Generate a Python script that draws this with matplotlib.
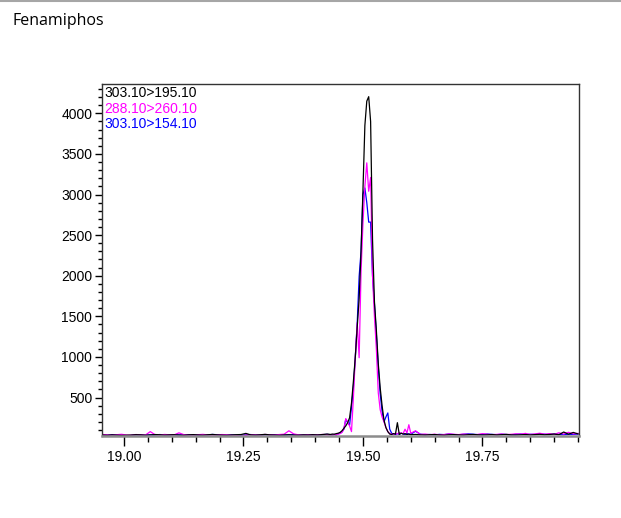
#chromatogram of Fenamiphos, three transitions
import matplotlib
matplotlib.use('Agg')
import matplotlib.pyplot as plt
from matplotlib.ticker import MultipleLocator, FormatStrFormatter
from matplotlib.lines import Line2D

title = 'Fenamiphos'
trace_names = ['303.10>195.10', '288.10>260.10', '303.10>154.10']
trace_colors = ['black', '#ff00ff', '#0000ff']

# retention time (min), baseline before the peak
t_left = [18.955, 18.965, 18.975, 18.985, 18.995, 19.005, 19.015, 19.025, 19.035, 19.045,
          19.055, 19.065, 19.075, 19.085, 19.095, 19.105, 19.115, 19.125, 19.135, 19.145,
          19.155, 19.165, 19.175, 19.185, 19.195, 19.205, 19.215, 19.225, 19.235, 19.245,
          19.255, 19.265, 19.275, 19.285, 19.295, 19.305, 19.315, 19.325, 19.335, 19.345,
          19.355, 19.365, 19.375, 19.385, 19.395, 19.405, 19.415, 19.425]
# retention time (min) around the peak
t_peak = [19.432, 19.436, 19.440, 19.444, 19.448, 19.452, 19.456, 19.460, 19.464, 19.468,
          19.472, 19.476, 19.480, 19.484, 19.488, 19.492, 19.496, 19.500, 19.504, 19.508,
          19.512, 19.516, 19.520, 19.524, 19.528, 19.532, 19.536, 19.540, 19.544, 19.548,
          19.552, 19.556, 19.560, 19.564, 19.568, 19.572, 19.576, 19.580, 19.584, 19.588,
          19.592, 19.596, 19.600]
# retention time (min) after the peak
t_right = [19.61, 19.62, 19.63, 19.64, 19.65, 19.66, 19.67, 19.68, 19.69, 19.70,
           19.71, 19.72, 19.73, 19.74, 19.75, 19.76, 19.77, 19.78, 19.79, 19.80,
           19.81, 19.82, 19.83, 19.84, 19.85, 19.86, 19.87, 19.88, 19.89, 19.90,
           19.91, 19.92, 19.93, 19.94, 19.95]

# 303.10>195.10 (black)
black_left = [38, 35, 40, 37, 34, 36, 38, 42, 40, 36, 39, 44, 41, 37, 40, 42, 38, 35, 40, 43,
              39, 36, 41, 45, 40, 37, 35, 39, 42, 44, 58, 40, 37, 41, 46, 40, 38, 35, 39, 41,
              37, 36, 40, 38, 42, 39, 44, 50]
black_peak = [45, 50, 48, 55, 60, 70, 90, 120, 150, 190,
              250, 430, 700, 1000, 1370, 1720, 2300, 3056, 3850, 4150,
              4205, 3900, 2444, 1680, 1330, 920, 620, 400, 222, 130,
              80, 50, 45, 55, 50, 190, 45, 60, 50, 55,
              45, 50, 42]
black_right = [45, 40, 38, 42, 44, 39, 36, 41, 43, 40, 37, 42, 45, 41, 38, 40, 44, 39, 42, 46,
               40, 38, 41, 44, 39, 43, 47, 41, 45, 50, 42, 75, 48, 70, 52]

# 288.10>260.10 (magenta)
magenta_left = [45, 40, 36, 42, 47, 38, 35, 44, 40, 38, 80, 42, 39, 45, 41, 40, 65, 43, 38, 36,
                42, 46, 40, 37, 39, 44, 41, 36, 30, 22, 38, 42, 40, 37, 45, 41, 39, 44, 48, 90,
                52, 40, 36, 42, 38, 40, 45, 42]
magenta_peak = [40, 38, 45, 42, 50, 55, 70, 110, 240, 200,
                150, 80, 500, 1000, 1420, 990, 2050, 2650, 3100, 3390,
                3040, 3210, 2000, 1500, 1100, 560, 350, 260, 200, 130,
                80, 55, 50, 45, 60, 50, 70, 60, 55, 110,
                65, 165, 60]
magenta_right = [90, 45, 50, 42, 48, 40, 44, 52, 47, 43, 50, 46, 41, 45, 55, 48, 42, 46, 50, 44,
                 47, 53, 49, 58, 45, 52, 60, 48, 55, 46, 66, 50, 72, 52, 58]

# 303.10>154.10 (blue)
blue_left = [40, 36, 42, 38, 30, 15, 33, 40, 38, 35, 41, 37, 44, 39, 36, 42, 40, 38, 43, 37,
             35, 41, 39, 45, 42, 38, 36, 40, 37, 34, 40, 44, 38, 36, 41, 39, 42, 37, 35, 40,
             43, 38, 36, 41, 39, 37, 42, 46]
blue_peak = [42, 40, 45, 38, 52, 60, 75, 110, 230, 190,
             160, 380, 630, 1000, 1420, 1990, 2300, 3000, 3080, 2900,
             2660, 2660, 2000, 1650, 1280, 880, 550, 330, 200, 260,
             310, 110, 60, 50, 45, 55, 48, 60, 52, 45,
             55, 50, 48]
blue_right = [85, 48, 42, 45, 40, 46, 43, 50, 44, 41, 47, 52, 48, 43, 45, 50, 46, 42, 48, 44,
              40, 46, 50, 43, 47, 45, 52, 48, 44, 50, 46, 42, 48, 45, 50]

plt.rcParams['font.family'] = ['Liberation Sans', 'DejaVu Sans']

fig = plt.figure(figsize=(6.21, 5.18), dpi=100)
ax = fig.add_axes([102 / 621, 82 / 518, 477 / 621, 352 / 518])

t_all = t_left + t_peak + t_right
traces = [black_left + black_peak + black_right,
          magenta_left + magenta_peak + magenta_right,
          blue_left + blue_peak + blue_right]

# blue first, black on top
for i in [2, 1, 0]:
    ax.plot(t_all, traces[i], color=trace_colors[i], lw=0.9)

ax.set_xlim(18.954, 19.952)
ax.set_ylim(26, 4361)

ax.xaxis.set_major_locator(MultipleLocator(0.25))
ax.xaxis.set_minor_locator(MultipleLocator(0.05))
ax.xaxis.set_major_formatter(FormatStrFormatter('%.2f'))
ax.yaxis.set_major_locator(MultipleLocator(500))
ax.yaxis.set_minor_locator(MultipleLocator(100))

ax.tick_params(axis='x', which='major', direction='out', length=7, width=1, labelsize=10, pad=3)
ax.tick_params(axis='x', which='minor', direction='out', length=4, width=1)
ax.tick_params(axis='y', which='major', direction='out', length=5, width=1, labelsize=10, pad=2)
ax.tick_params(axis='y', which='minor', direction='out', length=3, width=1)

for side in ['left', 'top', 'right']:
    ax.spines[side].set_color('#333333')
    ax.spines[side].set_linewidth(1)
ax.spines['bottom'].set_color('#8c8c8c')
ax.spines['bottom'].set_linewidth(1.8)

# transition labels at top left
for i in range(3):
    ax.annotate(trace_names[i], xy=(0, 1), xycoords='axes fraction',
                xytext=(1.5, -1.5 - 11.3 * i), textcoords='offset points',
                ha='left', va='top', fontsize=10, color=trace_colors[i])

fig.text(12 / 621, 1 - 25 / 518, title, fontsize=11.5, family=['Open Sans', 'DejaVu Sans'],
         ha='left', va='baseline')
fig.add_artist(Line2D([0, 1], [0.999, 0.999], transform=fig.transFigure, color='#a6a6a6', lw=1.5))

plt.savefig('out.png', dpi=100)
